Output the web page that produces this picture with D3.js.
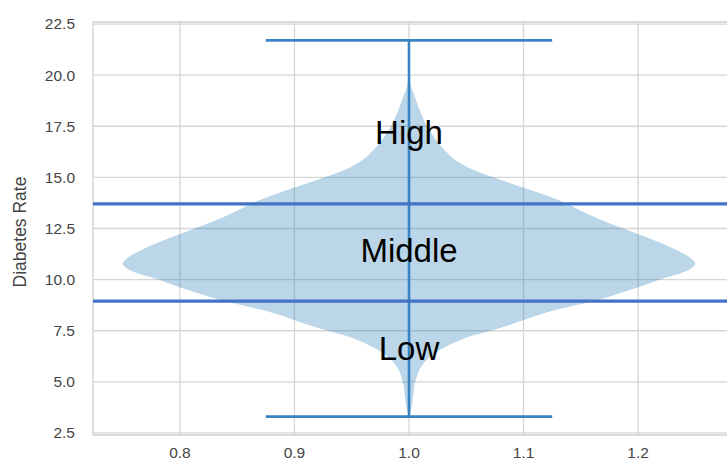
<!DOCTYPE html>
<html>
<head>
<meta charset="utf-8">
<script src="https://cdn.jsdelivr.net/npm/d3@7"></script>
<style>
  html, body { margin: 0; padding: 0; background: #ffffff; }
  svg { display: block; }
</style>
</head>
<body>
<div id="chart"></div>
<script>
// ---------- data ----------
const xTicks = [0.8, 0.9, 1.0, 1.1, 1.2];
const yTicks = [2.5, 5.0, 7.5, 10.0, 12.5, 15.0, 17.5, 20.0, 22.5];
const violinPosition = 1.0;
// KDE profile: rate values and relative density (1 = widest)
const violinValues = [21.67, 20.74, 19.62, 19.03, 18.30, 17.47, 16.83, 16.34, 15.85, 15.36, 14.87, 14.24, 13.75, 13.26, 12.58, 11.94, 11.45, 11.06, 10.77, 10.47, 9.98, 9.50, 9.01, 8.37, 7.69, 7.05, 6.41, 5.73, 4.95, 4.26, 3.63, 3.33];
const violinDensity = [0.0, 0.001, 0.004, 0.018, 0.037, 0.064, 0.095, 0.124, 0.162, 0.226, 0.322, 0.455, 0.547, 0.617, 0.732, 0.854, 0.934, 0.983, 1.0, 0.976, 0.871, 0.774, 0.662, 0.475, 0.331, 0.180, 0.091, 0.042, 0.021, 0.014, 0.007, 0.0];
const rateMin = 3.3;
const rateMax = 21.7;
const thresholds = [13.7, 8.95];
const groupLabels = ["High", "Middle", "Low"];
const groupLabelY = [16.63, 10.86, 6.07];
const yTitle = "Diabetes Rate";

// ---------- layout ----------
const W = 727, H = 464;
const plotLeft = 93, plotTop = 22, plotBottom = 435, plotRight = 745;
const violinHalfWidth = 0.25;   // max half-width in x units
const capHalfWidth = 0.125;

const svg = d3.select("#chart").append("svg")
  .attr("width", W).attr("height", H)
  .style("font-family", "'Liberation Sans', Arial, Helvetica, sans-serif");

const x = d3.scaleLinear().domain([0.725, 1.275]).range([94, 724]);
const y = d3.scaleLinear().domain([2.4, 22.6]).range([plotBottom, plotTop]);

// ---------- grid ----------
const grid = svg.append("g");
grid.selectAll("line.gx").data(xTicks).enter().append("line")
  .attr("x1", d => x(d)).attr("x2", d => x(d))
  .attr("y1", plotTop).attr("y2", plotBottom)
  .attr("stroke", "#d6d6d6").attr("stroke-width", 1.3);
grid.selectAll("line.gy").data(yTicks).enter().append("line")
  .attr("x1", plotLeft).attr("x2", plotRight)
  .attr("y1", d => y(d)).attr("y2", d => y(d))
  .attr("stroke", "#d6d6d6").attr("stroke-width", 1.3);

// spines
svg.append("line").attr("x1", plotLeft).attr("x2", plotLeft)
  .attr("y1", plotTop).attr("y2", plotBottom)
  .attr("stroke", "#cfcfcf").attr("stroke-width", 1.3);
svg.append("line").attr("x1", plotLeft).attr("x2", plotRight)
  .attr("y1", plotBottom).attr("y2", plotBottom)
  .attr("stroke", "#cfcfcf").attr("stroke-width", 1.3);
svg.append("line").attr("x1", plotLeft).attr("x2", plotRight)
  .attr("y1", plotTop).attr("y2", plotTop)
  .attr("stroke", "#cfcfcf").attr("stroke-width", 1.3);

// ---------- violin body ----------
const profile = violinValues.map((v, i) => ({ v, d: violinDensity[i] }));
const area = d3.area()
  .y(p => y(p.v))
  .x0(p => x(violinPosition - p.d * violinHalfWidth))
  .x1(p => x(violinPosition + p.d * violinHalfWidth))
  .curve(d3.curveCatmullRom.alpha(0.5));
svg.append("path").datum(profile)
  .attr("d", area)
  .attr("fill", "#1f77b4").attr("fill-opacity", 0.3);

// ---------- violin lines ----------
const lineColor = "#3a83c3";
svg.append("line")
  .attr("x1", x(violinPosition)).attr("x2", x(violinPosition))
  .attr("y1", y(rateMin)).attr("y2", y(rateMax))
  .attr("stroke", lineColor).attr("stroke-width", 2.6);
[rateMin, rateMax].forEach(v => {
  svg.append("line")
    .attr("x1", x(violinPosition - capHalfWidth)).attr("x2", x(violinPosition + capHalfWidth))
    .attr("y1", y(v)).attr("y2", y(v))
    .attr("stroke", lineColor).attr("stroke-width", 2.6);
});

// ---------- threshold lines ----------
svg.selectAll("line.th").data(thresholds).enter().append("line")
  .attr("x1", plotLeft).attr("x2", plotRight)
  .attr("y1", d => y(d)).attr("y2", d => y(d))
  .attr("stroke", "#4472c4").attr("stroke-width", 3.2);

// ---------- group labels ----------
svg.selectAll("text.grp").data(groupLabels).enter().append("text")
  .attr("x", x(violinPosition))
  .attr("y", (d, i) => y(groupLabelY[i]))
  .attr("text-anchor", "middle")
  .attr("font-size", 33)
  .attr("fill", "#000")
  .text(d => d);

// ---------- tick labels ----------
svg.selectAll("text.yt").data(yTicks).enter().append("text")
  .attr("x", 75).attr("y", d => y(d))
  .attr("dy", "0.35em")
  .attr("text-anchor", "end")
  .attr("font-size", 15.5)
  .attr("fill", "#444")
  .text(d => d3.format(".1f")(d));
svg.selectAll("text.xt").data(xTicks).enter().append("text")
  .attr("x", d => x(d)).attr("y", 458)
  .attr("text-anchor", "middle")
  .attr("font-size", 15.5)
  .attr("fill", "#444")
  .text(d => d3.format(".1f")(d));

// y title
svg.append("text")
  .attr("transform", `translate(26, 232) rotate(-90)`)
  .attr("text-anchor", "middle")
  .attr("font-size", 17.5)
  .attr("fill", "#444")
  .text(yTitle);
</script>
</body>
</html>
